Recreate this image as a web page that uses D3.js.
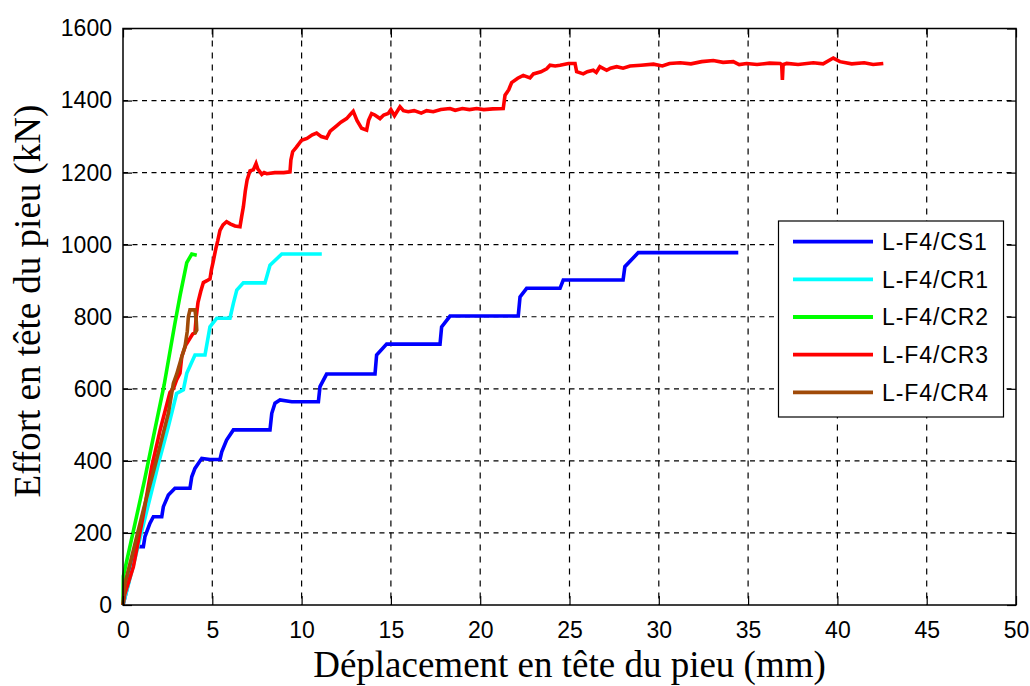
<!DOCTYPE html>
<html>
<head>
<meta charset="utf-8">
<script src="https://cdn.jsdelivr.net/npm/d3@7"></script>
<style>
  html, body { margin: 0; padding: 0; background: #fff; }
  svg { display: block; }
</style>
</head>
<body>
<svg id="chart" width="1030" height="686"></svg>
<script>
// ---------- Data ----------
const xTicks = [0, 5, 10, 15, 20, 25, 30, 35, 40, 45, 50];
const yTicks = [0, 200, 400, 600, 800, 1000, 1200, 1400, 1600];
const seriesNames = ["L-F4/CS1", "L-F4/CR1", "L-F4/CR2", "L-F4/CR3", "L-F4/CR4"];
const seriesColors = ["#0000ff", "#00ffff", "#00ff00", "#ff0000", "#a04a08"];

// displacement (mm), load (kN)
const cs1 = [[0,0],[0.3,60],[0.6,130],[0.77,162],[1.14,162],[1.23,190],[1.51,227],[1.70,245],[2.17,245],[2.26,273],[2.54,305],[2.91,324],[3.75,324],[3.85,356],[4.03,379],[4.41,407],[4.87,404],[5.43,404],[5.53,425],[5.80,458],[6.18,486],[8.23,486],[8.33,532],[8.51,560],[8.79,569],[9.45,564],[10.94,564],[11.03,606],[11.4,641],[14.11,641],[14.2,694],[14.76,724],[17.75,724],[17.84,772],[18.31,802],[22.13,802],[22.23,855],[22.6,879],[24.47,879],[24.65,902],[28.0,902],[28.1,939],[28.85,978],[34.45,978]];

const cr1 = [[0,0],[0.5,95],[1.0,195],[1.5,295],[2.0,395],[2.54,495],[3.0,587],[3.38,597],[3.57,643],[4.03,694],[4.59,694],[4.87,772],[5.25,796],[5.99,796],[6.18,837],[6.37,874],[6.74,894],[7.95,894],[8.23,943],[8.89,974],[11.13,974]];

const cr2 = [[0,0],[0.02,80],[0.6,210],[1.2,345],[1.8,490],[2.3,610],[2.9,780],[3.2,860],[3.57,950],[3.85,974],[4.13,971]];

const cr3 = [[0,0],[0.1,30],[0.58,106],[1.1,240],[1.61,384],[2.1,490],[2.63,590],[2.82,600],[3.0,625],[3.19,643],[3.29,689],[3.5,720],[3.75,740],[3.9,752],[4.03,756],[4.1,800],[4.2,840],[4.35,870],[4.5,895],[4.7,900],[4.87,905],[4.95,930],[5.06,955],[5.2,990],[5.3,1010],[5.43,1040],[5.6,1055],[5.8,1064],[6.0,1058],[6.27,1052],[6.55,1050],[6.65,1080],[6.74,1105],[6.85,1150],[6.95,1180],[7.11,1205],[7.3,1208],[7.45,1225],[7.55,1210],[7.77,1195],[7.9,1200],[8.05,1197],[8.5,1200],[9.0,1200],[9.35,1202],[9.4,1235],[9.5,1258],[9.7,1270],[10.0,1290],[10.3,1295],[10.6,1305],[10.84,1310],[11.1,1300],[11.4,1296],[11.6,1315],[11.96,1330],[12.2,1340],[12.52,1350],[12.7,1360],[12.89,1370],[13.1,1345],[13.36,1323],[13.64,1318],[13.75,1345],[13.92,1364],[14.1,1360],[14.39,1350],[14.6,1360],[14.85,1364],[15.0,1375],[15.2,1358],[15.51,1383],[15.7,1372],[15.97,1369],[16.3,1372],[16.7,1365],[17.0,1372],[17.37,1369],[17.8,1375],[18.31,1378],[18.6,1373],[19.0,1378],[19.4,1375],[19.8,1378],[20.2,1375],[20.7,1377],[21.29,1378],[21.39,1415],[21.6,1430],[21.76,1450],[22.1,1462],[22.41,1470],[22.79,1463],[22.98,1474],[23.4,1480],[23.72,1488],[23.91,1498],[24.2,1496],[24.47,1498],[24.94,1503],[25.31,1503],[25.4,1480],[25.77,1474],[26.0,1480],[26.33,1484],[26.5,1478],[26.7,1494],[27.08,1484],[27.3,1490],[27.64,1494],[28.0,1490],[28.39,1496],[29.0,1498],[29.7,1501],[30.2,1496],[30.6,1503],[31.2,1505],[31.8,1502],[32.4,1508],[33.05,1511],[33.6,1506],[34.17,1508],[34.5,1500],[34.92,1503],[35.5,1500],[36.2,1504],[36.79,1503],[36.88,1500],[36.92,1457],[36.96,1500],[37.16,1503],[37.8,1500],[38.65,1505],[39.2,1502],[39.77,1518],[40.14,1508],[40.8,1502],[41.5,1505],[42.0,1500],[42.57,1503]];

const cr4 = [[0,0],[0.02,14],[0.11,60],[0.49,134],[1.14,264],[1.89,405],[2.54,532],[2.82,615],[3.0,640],[3.29,689],[3.47,717],[3.6,760],[3.66,800],[3.75,819],[4.03,819],[4.1,790],[4.13,763],[4.0,752]];

const allSeries = [cs1, cr1, cr2, cr3, cr4];

// ---------- Layout ----------
const svg = d3.select("#chart");
const W = 1030, H = 686;
const plot = { left: 123, right: 1016, top: 28.5, bottom: 605 };

svg.append("rect").attr("width", W).attr("height", H).attr("fill", "#fff");

const x = d3.scaleLinear().domain([0, 50]).range([plot.left, plot.right]);
const y = d3.scaleLinear().domain([0, 1600]).range([plot.bottom, plot.top]);

const tickFont = "'Liberation Sans', Arial, sans-serif";
const titleFont = "'Liberation Serif', 'Times New Roman', serif";

// grid
const grid = svg.append("g");
grid.selectAll("line.vg").data(xTicks.slice(1, -1)).enter().append("line")
  .attr("x1", d => x(d)).attr("x2", d => x(d))
  .attr("y1", plot.top).attr("y2", plot.bottom)
  .attr("stroke", "#000").attr("stroke-width", 1.2)
  .attr("stroke-dasharray", "6,6");
grid.selectAll("line.hg").data(yTicks.slice(1, -1)).enter().append("line")
  .attr("x1", plot.left).attr("x2", plot.right)
  .attr("y1", d => y(d)).attr("y2", d => y(d))
  .attr("stroke", "#000").attr("stroke-width", 1.2)
  .attr("stroke-dasharray", "5,4.5");

// series
const line = d3.line().x(d => x(d[0])).y(d => y(d[1]));
allSeries.forEach((s, i) => {
  svg.append("path").datum(s)
    .attr("d", line)
    .attr("fill", "none")
    .attr("stroke", seriesColors[i])
    .attr("stroke-width", 3.6)
    .attr("stroke-linejoin", "miter")
    .attr("stroke-linecap", "butt");
});

// axes (ticks inward on all four sides)
const tl = 9;
const axB = d3.axisBottom(x).tickValues(xTicks).tickSizeInner(-tl).tickSizeOuter(0).tickPadding(17).tickFormat(d3.format("d"));
const axT = d3.axisTop(x).tickValues(xTicks).tickSizeInner(-tl).tickSizeOuter(0).tickFormat("");
const axL = d3.axisLeft(y).tickValues(yTicks).tickSizeInner(-tl).tickSizeOuter(0).tickPadding(11).tickFormat(d3.format("d"));
const axR = d3.axisRight(y).tickValues(yTicks).tickSizeInner(-tl).tickSizeOuter(0).tickFormat("");

function styleAxis(g) {
  g.select(".domain").remove();
  g.selectAll(".tick line").attr("stroke", "#000").attr("stroke-width", 1.2);
  g.selectAll(".tick text").attr("fill", "#000").style("font-family", tickFont).style("font-size", "23px");
}
svg.append("g").attr("transform", `translate(0,${plot.bottom})`).call(axB).call(styleAxis);
svg.append("g").attr("transform", `translate(0,${plot.top})`).call(axT).call(styleAxis);
svg.append("g").attr("transform", `translate(${plot.left},0)`).call(axL).call(styleAxis);
svg.append("g").attr("transform", `translate(${plot.right},0)`).call(axR).call(styleAxis);

// box
svg.append("rect")
  .attr("x", plot.left).attr("y", plot.top)
  .attr("width", plot.right - plot.left).attr("height", plot.bottom - plot.top)
  .attr("fill", "none").attr("stroke", "#000").attr("stroke-width", 1.5);

// titles
svg.append("text")
  .attr("x", (plot.left + plot.right) / 2).attr("y", 677)
  .attr("text-anchor", "middle")
  .style("font-family", titleFont).style("font-size", "37px")
  .attr("fill", "#000")
  .text("Déplacement en tête du pieu (mm)");

svg.append("text")
  .attr("transform", `translate(40,301) rotate(-90)`)
  .attr("text-anchor", "middle")
  .style("font-family", titleFont).style("font-size", "37px")
  .attr("fill", "#000")
  .text("Effort en tête du pieu (kN)");

// legend
const leg = svg.append("g");
const legBox = { x: 778.5, y: 221, w: 225, h: 196 };
leg.append("rect").attr("x", legBox.x).attr("y", legBox.y).attr("width", legBox.w).attr("height", legBox.h)
  .attr("fill", "#fff").attr("stroke", "#000").attr("stroke-width", 1.2);
const rowY = d3.scalePoint().domain(seriesNames).range([241.7, 392.3]);
seriesNames.forEach((n, i) => {
  leg.append("line")
    .attr("x1", 793).attr("x2", 873)
    .attr("y1", rowY(n)).attr("y2", rowY(n))
    .attr("stroke", seriesColors[i]).attr("stroke-width", 3.8);
  leg.append("text")
    .attr("x", 882).attr("y", rowY(n))
    .attr("dy", "0.36em")
    .style("font-family", tickFont).style("font-size", "23px")
    .style("letter-spacing", "0.9px")
    .attr("fill", "#000")
    .text(n);
});
</script>
</body>
</html>
